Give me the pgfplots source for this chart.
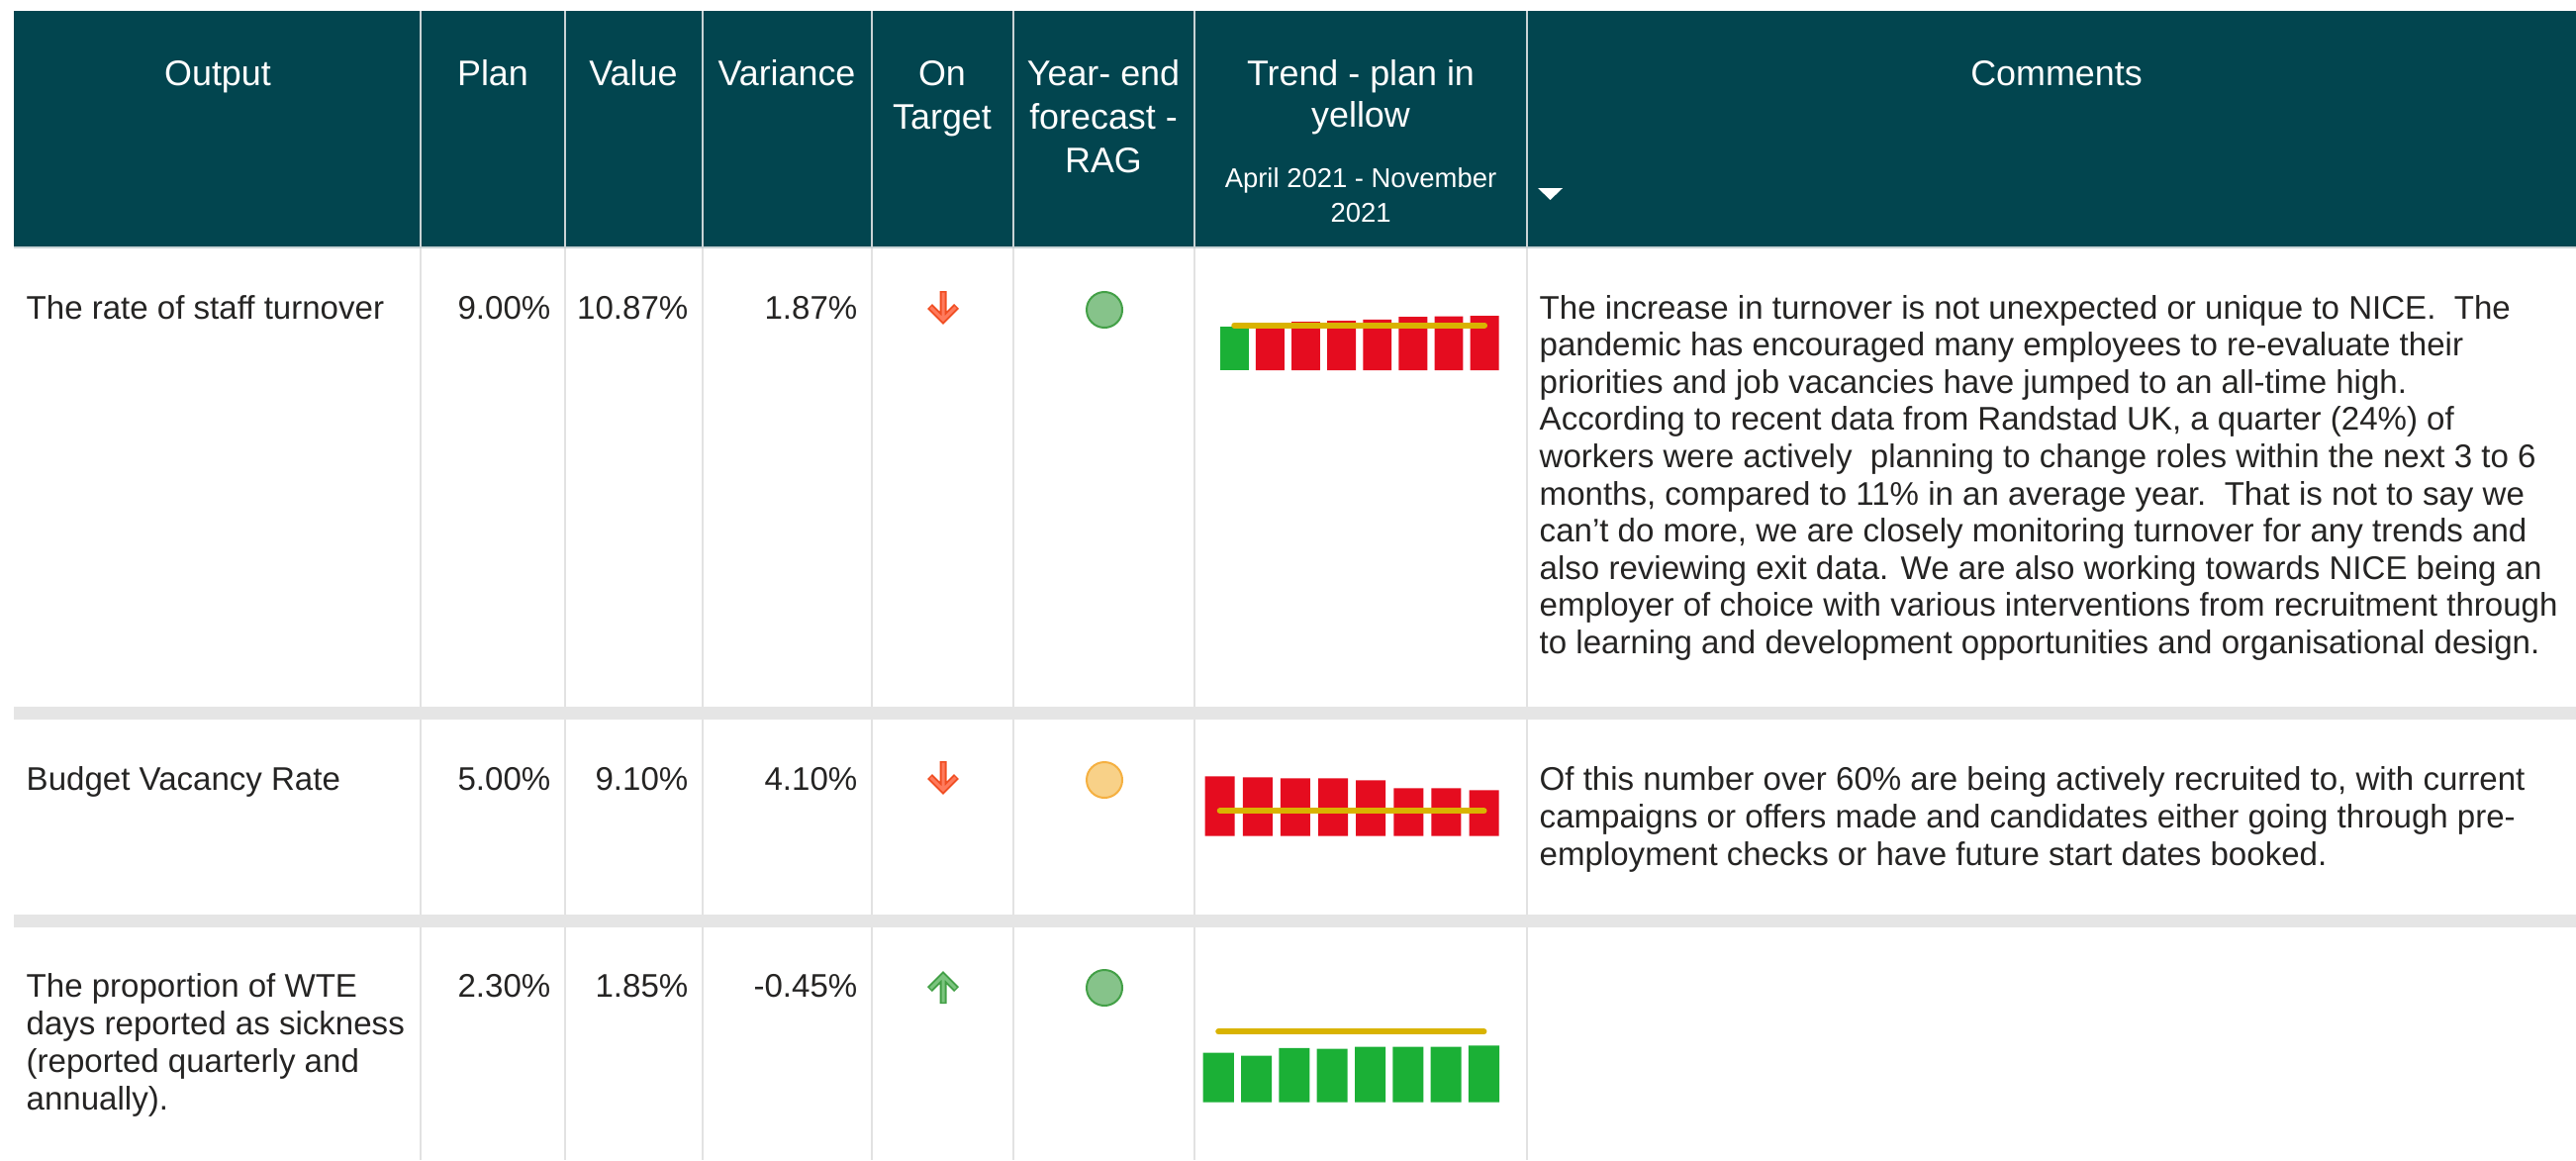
\documentclass[border=0pt]{standalone}
\usepackage{pgfplots}
\pgfplotsset{compat=1.18}
\usepackage{fontspec}
\setmainfont{Liberation Sans}

\definecolor{hdr}{HTML}{02454F}
\definecolor{hdrline}{HTML}{C9D3D5}
\definecolor{grid}{HTML}{E2E2E2}
\definecolor{band}{HTML}{E5E5E5}
\definecolor{txt}{HTML}{252423}
\definecolor{barred}{HTML}{E50C1F}
\definecolor{bargreen}{HTML}{1BB036}
\definecolor{planyel}{HTML}{D9B300}
\definecolor{arrred}{HTML}{F04E23}
\definecolor{arrredl}{HTML}{FF7A5C}
\definecolor{arrgrn}{HTML}{43A047}
\definecolor{arrgrnl}{HTML}{7CC47F}
\definecolor{ragg}{HTML}{86C38A}
\definecolor{raggd}{HTML}{43A047}
\definecolor{raga}{HTML}{F8D188}
\definecolor{ragad}{HTML}{F5B041}

\newcommand{\hdfont}{\fontsize{10.2}{12}\selectfont}
\newcommand{\smfont}{\fontsize{7.8}{9}\selectfont}
\newcommand{\bdfont}{\fontsize{9.4}{10.8}\selectfont}
% one line of body text, baseline at (x,y)
\newcommand{\tl}[3]{\node[anchor=base west,inner sep=0,text=txt,font=\bdfont] at (#1,#2) {#3};}
\newcommand{\tr}[3]{\node[anchor=base east,inner sep=0,text=txt,font=\bdfont] at (#1,#2) {#3};}

\begin{document}
\begin{tikzpicture}[x=0.01cm,y=-0.01cm]
\useasboundingbox (0,0) rectangle (2603,1172);

% header
\fill[hdr] (14,11) rectangle (2603,250);
\foreach \xx in {425,571,710,881,1024,1207,1543}
  \draw[hdrline,line width=0.015cm] (\xx,11)--(\xx,250);
\draw[hdrline,line width=0.015cm] (14,250)--(2603,250);

% body grid
\foreach \xx in {425,571,710,881,1024,1207,1543}
  \draw[grid,line width=0.025cm] (\xx,251)--(\xx,1172);
\fill[band] (14,714) rectangle (2603,727);
\fill[band] (14,924) rectangle (2603,937);

% header text
\begin{scope}[every node/.style={anchor=base,inner sep=0,text=white,font=\hdfont}]
\node at (220,86) {Output};
\node at (498,86) {Plan};
\node at (640,86) {Value};
\node at (795,86) {Variance};
\node at (952,86) {On};
\node at (952,130) {Target};
\node at (1115,86) {Year- end};
\node at (1115,130) {forecast -};
\node at (1115,174) {RAG};
\node at (1375,86) {Trend - plan in};
\node at (1375,128) {yellow};
\node at (2078,86) {Comments};
\node[font=\smfont] at (1375,189) {April 2021 - November};
\node[font=\smfont] at (1375,224) {2021};
\end{scope}
\fill[white] (1554,190)--(1579,190)--(1566.5,202)--cycle;

% row 1
\tl{26}{322}{The rate of staff turnover}
\tr{557}{322}{9.00\%}
\tr{696}{322}{10.87\%}
\tr{867}{322}{1.87\%}
\tl{1555}{322}{The increase in turnover is not unexpected or unique to NICE.\ \ The}
\tl{1555}{359.6}{pandemic has encouraged many employees to re-evaluate their}
\tl{1555}{397.2}{priorities and job vacancies have jumped to an all-time high.}
\tl{1555}{434.8}{According to recent data from Randstad UK, a quarter (24\%) of}
\tl{1555}{472.4}{workers were actively\ \ planning to change roles within the next 3 to 6}
\tl{1555}{510}{months, compared to 11\% in an average year.\ \ That is not to say we}
\tl{1555}{547.6}{can’t do more, we are closely monitoring turnover for any trends and}
\tl{1555}{585.2}{also reviewing exit data. We are also working towards NICE being an}
\tl{1555}{622.8}{employer of choice with various interventions from recruitment through}
\tl{1555}{660.4}{to learning and development opportunities and organisational design.}

% row 2
\tl{26}{798}{Budget Vacancy Rate}
\tr{557}{798}{5.00\%}
\tr{696}{798}{9.10\%}
\tr{867}{798}{4.10\%}
\tl{1555}{798}{Of this number over 60\% are being actively recruited to, with current}
\tl{1555}{836}{campaigns or offers made and candidates either going through pre-}
\tl{1555}{874}{employment checks or have future start dates booked.}

% row 3
\tl{26}{1007}{The proportion of WTE}
\tl{26}{1045}{days reported as sickness}
\tl{26}{1083}{(reported quarterly and}
\tl{26}{1121}{annually).}
\tr{557}{1007}{2.30\%}
\tr{696}{1007}{1.85\%}
\tr{867}{1007}{-0.45\%}

% on-target arrows
\draw[arrred,line width=0.07cm,miter limit=10] (953,294)--(953,323) (939.5,309.5)--(953,323)--(966.5,309.5);
\draw[arrredl,line width=0.03cm,miter limit=10] (953,295.5)--(953,322) (940.5,310.5)--(953,323)--(965.5,310.5);
\draw[arrred,line width=0.07cm,miter limit=10] (953,769)--(953,798) (939.5,784.5)--(953,798)--(966.5,784.5);
\draw[arrredl,line width=0.03cm,miter limit=10] (953,770.5)--(953,797) (940.5,785.5)--(953,798)--(965.5,785.5);
\draw[arrgrn,line width=0.07cm,miter limit=10] (953,1014)--(953,986) (939.5,999.5)--(953,986)--(966.5,999.5);
\draw[arrgrnl,line width=0.03cm,miter limit=10] (953,1012.5)--(953,987) (940.5,998.5)--(953,986)--(965.5,998.5);

% RAG circles
\filldraw[fill=ragg,draw=raggd,line width=0.02cm] (1116,313) circle[radius=0.18cm];
\filldraw[fill=raga,draw=ragad,line width=0.02cm] (1116,788) circle[radius=0.18cm];
\filldraw[fill=ragg,draw=raggd,line width=0.02cm] (1116,998) circle[radius=0.18cm];

% trend sparklines
\begin{axis}[at={(12.2845cm,-3.74cm)},anchor=south west,hide axis,clip=false,
  x=0.361cm,y=0.0506cm,xmin=0.5,xmax=8.5,ymin=0,ymax=10.87]
\addplot[ybar,bar width=0.8,bar shift=0pt,fill=bargreen,draw=none] coordinates {(1,8.70)};
\addplot[ybar,bar width=0.8,bar shift=0pt,fill=barred,draw=none]
  coordinates {(2,9.10)(3,9.68)(4,9.88)(5,10.15)(6,10.67)(7,10.80)(8,10.87)};
\addplot[planyel,line width=1.7pt,line cap=round] coordinates {(1,9)(8,9)};
\end{axis}

\begin{axis}[at={(12.1295cm,-8.44cm)},anchor=south west,hide axis,clip=false,
  x=0.381cm,y=0.0506cm,xmin=0.5,xmax=8.5,ymin=0,ymax=11.86]
\addplot[ybar,bar width=0.787,bar shift=0pt,fill=barred,draw=none]
  coordinates {(1,11.86)(2,11.66)(3,11.46)(4,11.46)(5,11.07)(6,9.49)(7,9.49)(8,9.10)};
\addplot[planyel,line width=1.7pt,line cap=round] coordinates {(1,5)(8,5)};
\end{axis}

\begin{axis}[at={(12.1135cm,-11.13cm)},anchor=south west,hide axis,clip=false,
  x=0.383cm,y=0.31cm,xmin=0.5,xmax=8.5,ymin=0,ymax=2.3]
\addplot[ybar,bar width=0.81,bar shift=0pt,fill=bargreen,draw=none]
  coordinates {(1,1.61)(2,1.52)(3,1.77)(4,1.74)(5,1.81)(6,1.81)(7,1.81)(8,1.85)};
\addplot[planyel,line width=1.7pt,line cap=round] coordinates {(1,2.3)(8,2.3)};
\end{axis}
\end{tikzpicture}
\end{document}
